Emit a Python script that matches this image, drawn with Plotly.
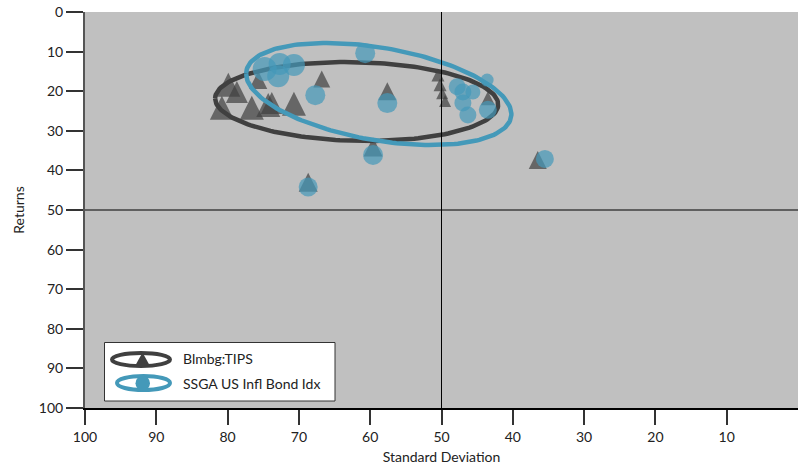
import numpy as np
import plotly.graph_objects as go

# ---------------- data ----------------
tips_sd = [79.9, 78.7, 80.8, 76.6, 74.3, 73.8, 70.7, 75.7, 66.8, 57.6,
           50.5, 50.2, 49.9, 49.5, 43.5, 59.6, 68.7, 36.5]
tips_ret = [18.4, 20.2, 24.2, 24.2, 23.5, 23.0, 23.2, 17.2, 16.9, 20.0,
            15.9, 18.4, 20.5, 22.5, 21.8, 34.1, 43.0, 37.4]

ssga_sd = [74.8, 72.7, 70.7, 72.9, 67.7, 60.7, 57.6, 59.6, 68.7, 35.5,
           47.8, 47.0, 45.6, 43.6, 47.0, 46.3, 43.5]
ssga_ret = [14.4, 13.1, 13.4, 16.2, 21.0, 10.4, 23.0, 36.1, 44.2, 37.1,
            18.9, 20.2, 20.2, 17.2, 23.0, 26.0, 24.7]

# ellipse parameters: centre (sd, ret), half-width, vertical radius, tilt term
tips_ellipse = dict(cx=61.9, cy=22.6, rx=19.85, ry=9.94, k=-0.76)
ssga_ellipse = dict(cx=58.8, cy=20.7, rx=18.6, ry=11.85, k=-5.1)

x_ticks = [100, 90, 80, 70, 60, 50, 40, 30, 20, 10]
y_ticks = [0, 10, 20, 30, 40, 50, 60, 70, 80, 90, 100]

names = ["Blmbg:TIPS", "SSGA US Infl Bond Idx"]

# ---------------- styles ----------------
DARK = "#404040"
BLUE = "#4499b9"
FONT = "Lato"
tips_sizes = [24, 22, 24, 24, 24, 22, 24, 18, 17, 18, 13, 13, 12, 12, 14, 19, 19, 18]
ssga_sizes = [24, 22, 22, 22, 20, 20, 20, 20, 19, 18, 17, 17, 15, 13, 17, 17, 18]


def ellipse(p, n=200):
    t = np.linspace(0, 2 * np.pi, n)
    x = p["cx"] + p["rx"] * np.cos(t)
    y = p["cy"] + p["ry"] * np.sin(t) + p["k"] * np.cos(t)
    return x, y


fig = go.Figure()

ex, ey = ellipse(tips_ellipse)
fig.add_trace(go.Scatter(x=ex, y=ey, mode="lines", line=dict(color=DARK, width=4.5),
                         hoverinfo="skip", name=names[0]))

fig.add_trace(go.Scatter(
    x=tips_sd, y=tips_ret, mode="markers", name=names[0],
    marker=dict(symbol="arrow-down", angle=180, size=tips_sizes,
                standoff=[s / 2 for s in tips_sizes], color=DARK, line=dict(width=0))))

bx, by = ellipse(ssga_ellipse)
fig.add_trace(go.Scatter(x=bx, y=by, mode="lines", line=dict(color=BLUE, width=4.5),
                         hoverinfo="skip", name=names[1]))

fig.add_trace(go.Scatter(
    x=ssga_sd, y=ssga_ret, mode="markers", name=names[1],
    marker=dict(symbol="circle", size=ssga_sizes, color=BLUE, line=dict(width=0))))

# ---------------- layout ----------------
L, R, T, B = 85, 798, 12, 408
W, H = 798, 468


def px(xp):
    return (xp - L) / (R - L)


def py(yp):
    return (B - yp) / (B - T)


shapes = [
    dict(type="line", xref="x", yref="y domain", x0=50, x1=50, y0=0, y1=1,
         line=dict(color="black", width=1)),
    dict(type="line", xref="x domain", yref="y", x0=0, x1=1, y0=50, y1=50,
         line=dict(color="black", width=1)),
    # legend box
    dict(type="rect", xref="paper", yref="paper", x0=px(104.5), x1=px(335), y0=py(401), y1=py(342.5),
         fillcolor="white", line=dict(color="#333333", width=1)),
    dict(type="circle", xref="paper", yref="paper", x0=px(112), x1=px(170), y0=py(366), y1=py(353),
         line=dict(color=DARK, width=4)),
    dict(type="path", xref="paper", yref="paper",
         path=f"M {px(135)},{py(366)} L {px(150)},{py(366)} L {px(142.5)},{py(352.5)} Z",
         fillcolor=DARK, line=dict(width=0)),
    dict(type="circle", xref="paper", yref="paper", x0=px(117), x1=px(170), y0=py(390), y1=py(376),
         line=dict(color=BLUE, width=4)),
    dict(type="circle", xref="paper", yref="paper", x0=px(135.5), x1=px(150), y0=py(390.5), y1=py(376),
         fillcolor=BLUE, line=dict(width=0)),
]

annotations = [
    dict(text=names[0], xref="paper", yref="paper", x=px(181), y=py(358.5),
         xanchor="left", yanchor="middle", showarrow=False,
         font=dict(family=FONT, size=14, color="#222")),
    dict(text=names[1], xref="paper", yref="paper", x=px(181), y=py(383.5),
         xanchor="left", yanchor="middle", showarrow=False,
         font=dict(family=FONT, size=14, color="#222")),
]

fig.update_layout(
    width=W, height=H,
    margin=dict(l=L, r=W - R, t=T, b=H - B),
    plot_bgcolor="#c0c0c0", paper_bgcolor="white",
    showlegend=False,
    font=dict(family=FONT, size=14, color="#222"),
    shapes=shapes, annotations=annotations,
    xaxis=dict(range=[100, 0], tickvals=x_ticks, ticktext=[str(v) for v in x_ticks],
               ticks="outside", ticklen=15, tickwidth=1.5, tickcolor="#333",
               showline=True, linecolor="black", linewidth=2,
               showgrid=False, zeroline=False, ticklabeloverflow="allow",
               title=dict(text="Standard Deviation", standoff=8, font=dict(size=14)),
               automargin=False),
    yaxis=dict(range=[100, 0], tickvals=y_ticks,
               ticks="outside", ticklen=17, tickwidth=1.5, tickcolor="#333",
               showline=True, linecolor="#555", linewidth=2,
               showgrid=False, zeroline=False, ticklabeloverflow="allow",
               title=dict(text="Returns", standoff=11, font=dict(size=14)),
               automargin=False),
)

fig.write_html(
    "out.html",
    config={"displayModeBar": False},
    post_script="document.body.style.margin='0';document.body.style.overflow='hidden';"
                "document.documentElement.style.overflow='hidden';",
)
